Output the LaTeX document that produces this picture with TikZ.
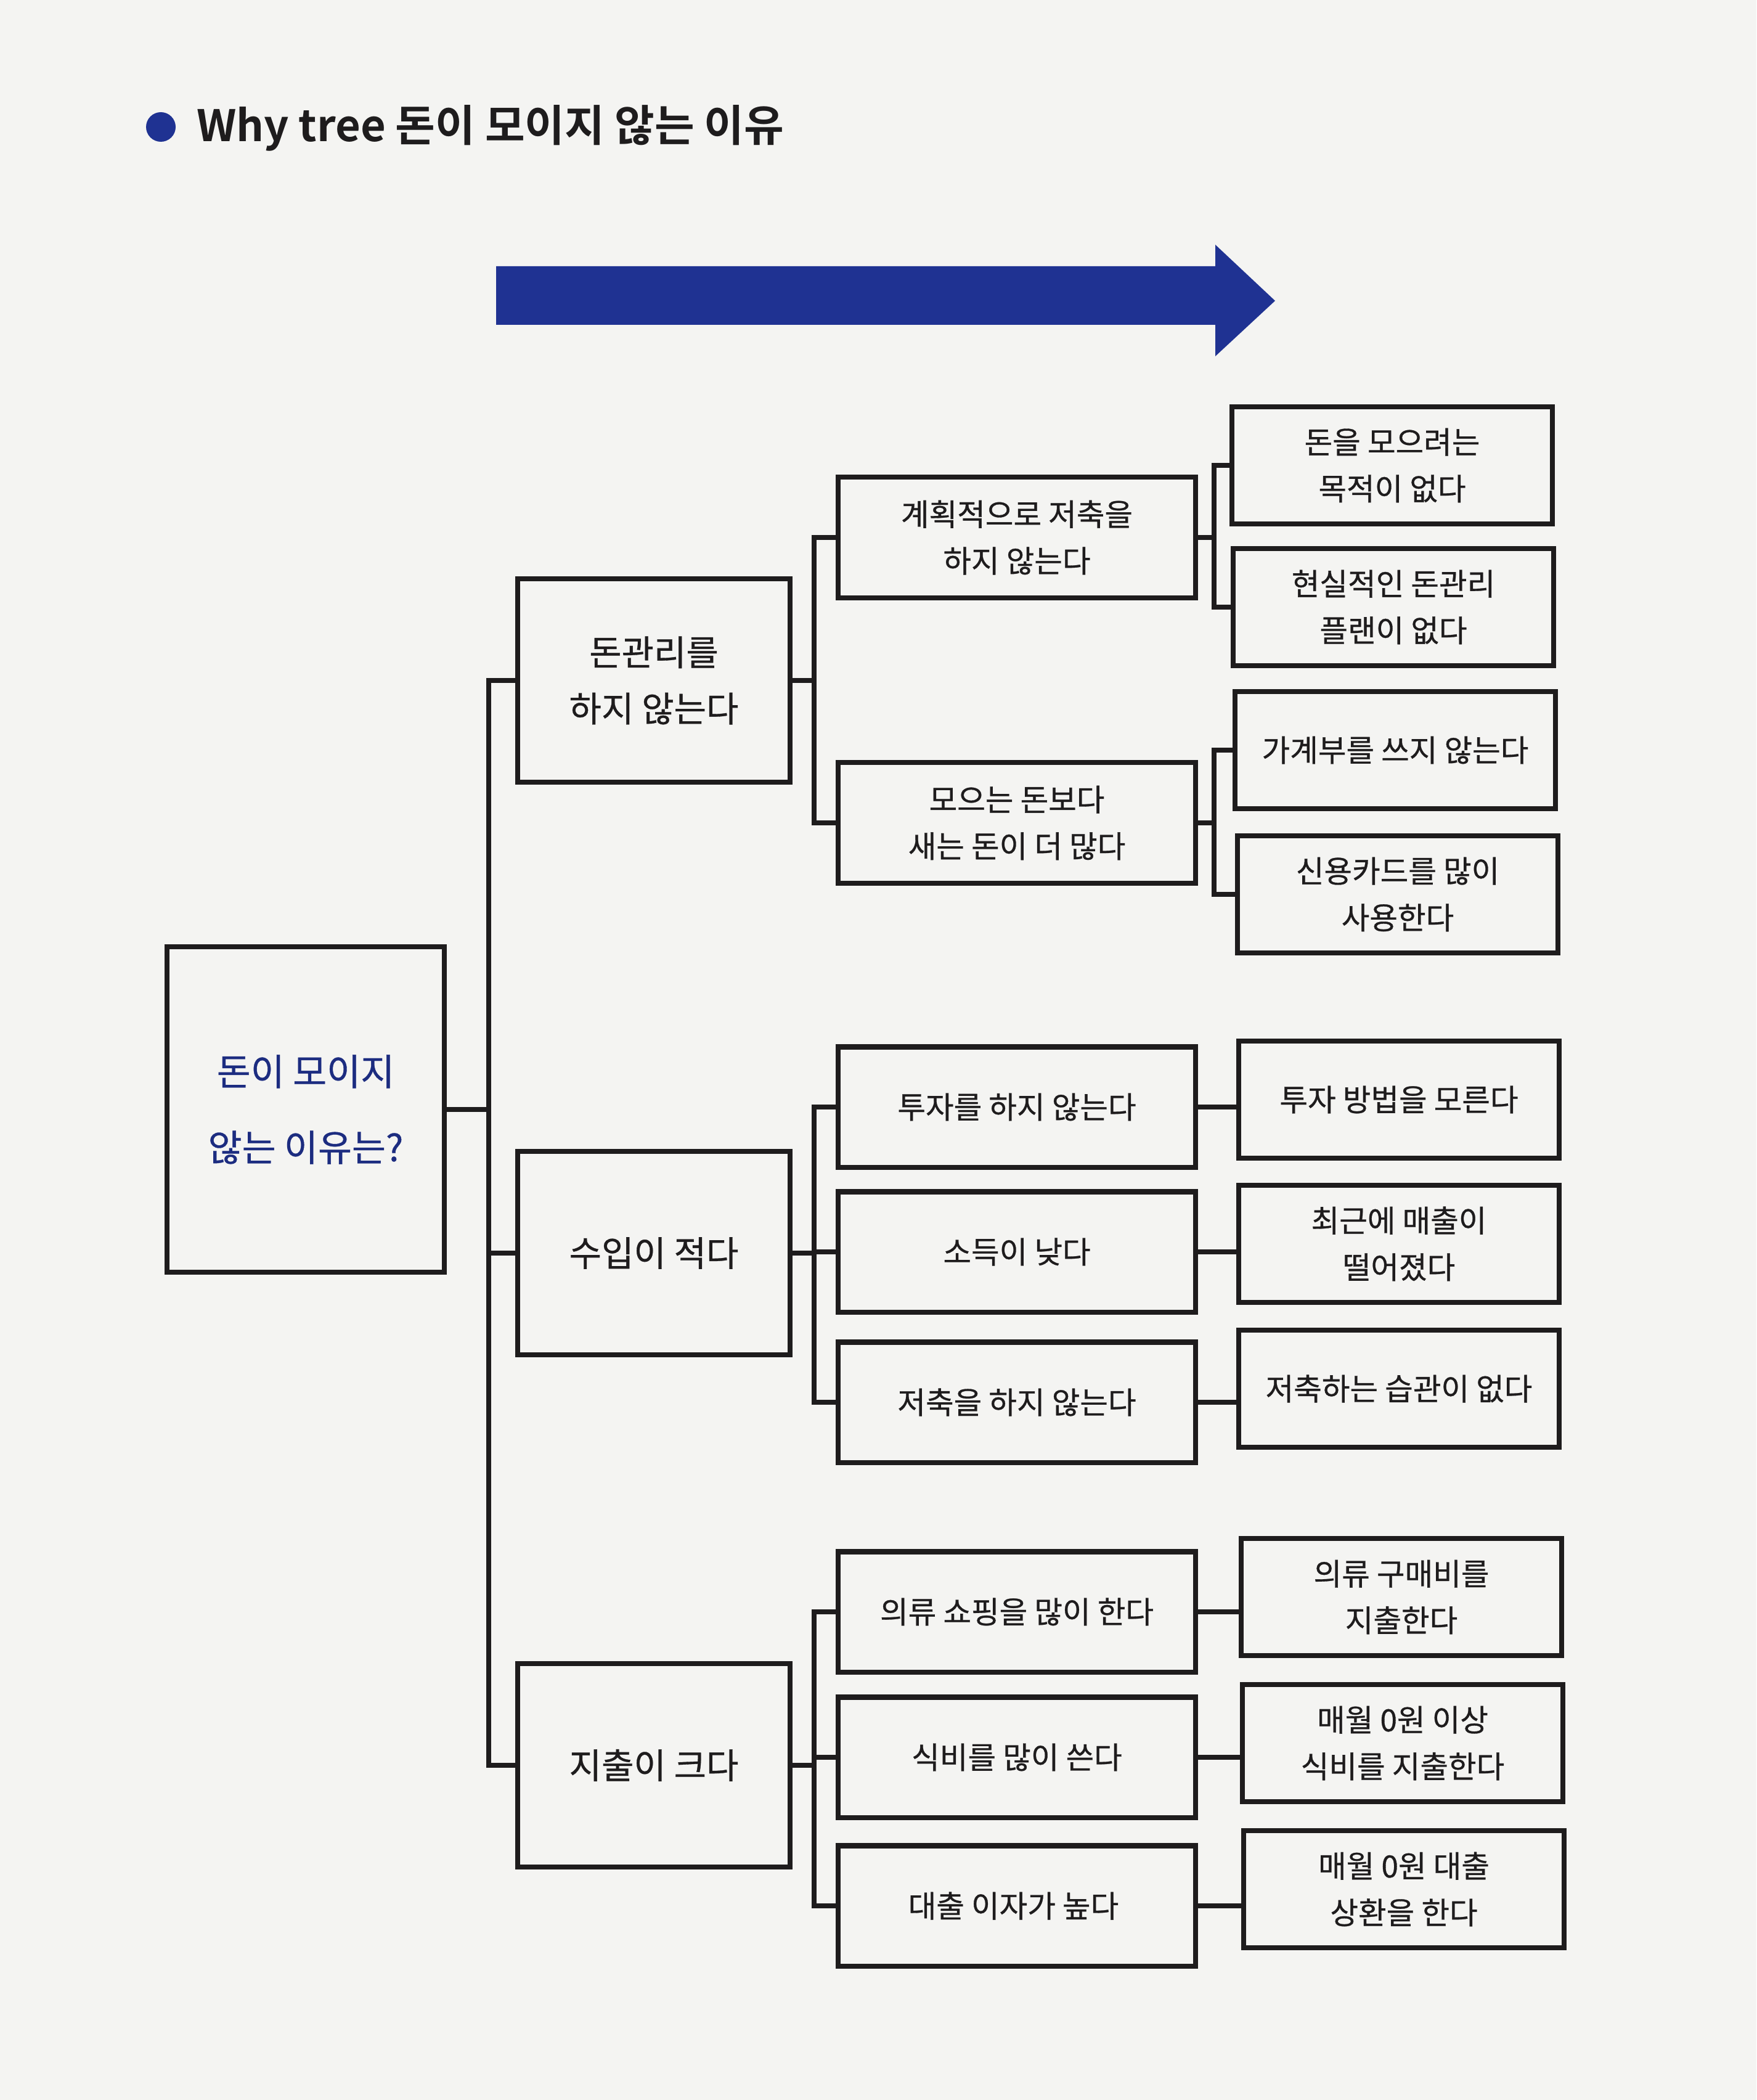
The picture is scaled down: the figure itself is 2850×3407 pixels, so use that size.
\documentclass[tikz,border=0pt]{standalone}
\usepackage{fontspec}
\setmainfont{Noto Sans CJK KR}[BoldFont={Noto Sans CJK KR Bold}]
\newfontfamily\boxfont{Noto Sans CJK KR}[FakeBold=0.6]
\usepackage{xcolor}
\usepackage{tikz}

\definecolor{paper}{RGB}{244,244,242}
\definecolor{ink}{RGB}{30,28,29}
\definecolor{navy}{RGB}{31,50,146}
\definecolor{pen}{RGB}{28,44,128}

\begin{document}
\begin{tikzpicture}[x=0.01cm, y=-0.01cm, line width=2.3pt, ink,
    box/.style={draw, rectangle, inner sep=0pt, align=center},
    rootbox/.style={box, minimum width=4.50cm, minimum height=5.27cm,
        font=\boxfont\fontsize{17}{35}\selectfont, text=pen},
    mainbox/.style={box, minimum width=4.41cm, minimum height=3.30cm,
        font=\boxfont\fontsize{16.2}{26}\selectfont},
    subbox/.style={box, minimum width=5.80cm, minimum height=1.95cm,
        font=\boxfont\fontsize{14.1}{21.5}\selectfont},
    leafbox/.style={box, minimum width=5.20cm, minimum height=1.90cm,
        font=\boxfont\fontsize{14.1}{21.5}\selectfont}]

    % Page
    \fill[paper] (0,0) rectangle (2850,3407);

    % Title
    \fill[navy] (261,206) circle (24);
    \node[anchor=base west, inner sep=0pt, font=\fontsize{20}{24}\selectfont\bfseries]
        (title) at (315,230) {Why tree 돈이 모이지 않는 이유};

    % Direction arrow
    \fill[navy] (805,432) -- (1972,432) -- (1972,397) -- (2069,488)
        -- (1972,578) -- (1972,527) -- (805,527) -- cycle;

    % Root and first level
    \node[rootbox] (root) at (496,1800) {돈이 모이지\\않는 이유는?};
    \node[mainbox] (mgmt) at (1061,1104) {돈관리를\\하지 않는다};
    \node[mainbox] (income) at (1061,2033) {수입이 적다};
    \node[mainbox] (spend) at (1061,2864) {지출이 크다};

    % Second level
    \foreach \n/\y/\txt in {
        p1/872/{계획적으로 저축을\\하지 않는다},
        p2/1335/{모으는 돈보다\\새는 돈이 더 많다},
        i1/1796/{투자를 하지 않는다},
        i2/2031/{소득이 낮다},
        i3/2275/{저축을 하지 않는다},
        s1/2615/{의류 쇼핑을 많이 한다},
        s2/2851/{식비를 많이 쓴다},
        s3/3092/{대출 이자가 높다}
    }
    {
        \node[subbox] (\n) at (1650,\y) {\txt};
    }

    % Third level
    \node[leafbox] (p1a) at (2259,755) {돈을 모으려는\\목적이 없다};
    \node[leafbox] (p1b) at (2261,985) {현실적인 돈관리\\플랜이 없다};
    \node[leafbox] (p2a) at (2264,1217) {가계부를 쓰지 않는다};
    \node[leafbox] (p2b) at (2268,1451) {신용카드를 많이\\사용한다};
    \node[leafbox] (i1a) at (2270,1784) {투자 방법을 모른다};
    \node[leafbox] (i2a) at (2270,2018) {최근에 매출이\\떨어졌다};
    \node[leafbox] (i3a) at (2270,2253) {저축하는 습관이 없다};
    \node[leafbox] (s1a) at (2274,2591) {의류 구매비를\\지출한다};
    \node[leafbox] (s2a) at (2276,2828) {매월 0원 이상\\식비를 지출한다};
    \node[leafbox] (s3a) at (2278,3065) {매월 0원 대출\\상환을 한다};

    % Branch lines
    \coordinate (bus0) at (793,0);
    \coordinate (bus1) at (1321,0);
    \coordinate (bus2) at (1970,0);
    \foreach \c in {mgmt, income, spend}
        \draw (root.east) -- (root.east -| bus0) |- (\c.west);
    \foreach \a/\c in {mgmt/p1, mgmt/p2, income/i1, income/i2, income/i3,
                       spend/s1, spend/s2, spend/s3}
        \draw (\a.east) -- (\a.east -| bus1) |- (\c.west);
    \foreach \a/\c in {p1/p1a, p1/p1b, p2/p2a, p2/p2b}
        \draw (\a.east) -- (\a.east -| bus2) |- (\c.west);
    \foreach \a/\c in {i1/i1a, i2/i2a, i3/i3a, s1/s1a, s2/s2a, s3/s3a}
        \draw (\a.east) -- (\a.east -| \c.west);

\end{tikzpicture}
\end{document}
